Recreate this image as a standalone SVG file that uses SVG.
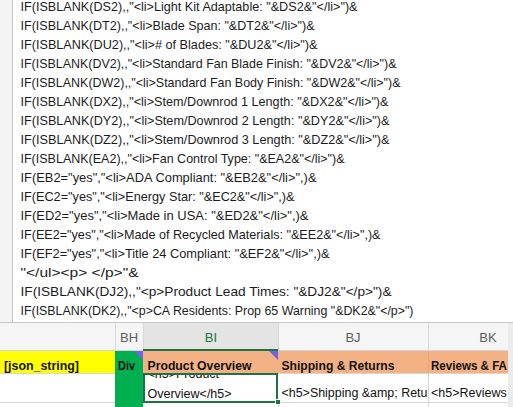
<svg xmlns="http://www.w3.org/2000/svg" width="513" height="407" viewBox="0 0 513 407">
<style>
.f{font-family:"Liberation Sans",Arial,sans-serif;font-size:13px;fill:#1c1c1c}
.c{font-family:"Liberation Sans",Arial,sans-serif;font-size:13px;fill:#5e5e5e;text-anchor:middle}
.b{font-family:"Liberation Sans",Arial,sans-serif;font-size:13px;font-weight:bold;fill:#111}
.r{font-family:"Liberation Sans",Arial,sans-serif;font-size:12.5px;fill:#111}
.grid{stroke:#d6d6d6;stroke-width:1}
.tri{fill:#7262e6}
</style>
<defs>
<clipPath id="clipBI"><rect x="144" y="374" width="133" height="28"/></clipPath>
<clipPath id="clipBK"><rect x="429" y="374" width="79" height="28"/></clipPath>
</defs>
<rect width="513" height="407" fill="#ffffff"/>
<g id="formula">
<rect x="0" y="0" width="12" height="322" fill="#f4f4f4"/>
<line x1="12.5" y1="0" x2="12.5" y2="322" stroke="#c4c4c4"/>
<text class="f" x="20.5" y="10.5" textLength="337" lengthAdjust="spacingAndGlyphs">IF(ISBLANK(DS2),,"&lt;li&gt;Light Kit Adaptable: "&amp;DS2&amp;"&lt;/li&gt;")&amp;</text>
<text class="f" x="20.5" y="29.5" textLength="294" lengthAdjust="spacingAndGlyphs">IF(ISBLANK(DT2),,"&lt;li&gt;Blade Span: "&amp;DT2&amp;"&lt;/li&gt;")&amp;</text>
<text class="f" x="20.5" y="48.5" textLength="297" lengthAdjust="spacingAndGlyphs">IF(ISBLANK(DU2),,"&lt;li&gt;# of Blades: "&amp;DU2&amp;"&lt;/li&gt;")&amp;</text>
<text class="f" x="20.5" y="67.5" textLength="376" lengthAdjust="spacingAndGlyphs">IF(ISBLANK(DV2),,"&lt;li&gt;Standard Fan Blade Finish: "&amp;DV2&amp;"&lt;/li&gt;")&amp;</text>
<text class="f" x="20.5" y="86.5" textLength="380" lengthAdjust="spacingAndGlyphs">IF(ISBLANK(DW2),,"&lt;li&gt;Standard Fan Body Finish: "&amp;DW2&amp;"&lt;/li&gt;")&amp;</text>
<text class="f" x="20.5" y="105.5" textLength="368" lengthAdjust="spacingAndGlyphs">IF(ISBLANK(DX2),,"&lt;li&gt;Stem/Downrod 1 Length: "&amp;DX2&amp;"&lt;/li&gt;")&amp;</text>
<text class="f" x="20.5" y="124.5" textLength="369" lengthAdjust="spacingAndGlyphs">IF(ISBLANK(DY2),,"&lt;li&gt;Stem/Downrod 2 Length: "&amp;DY2&amp;"&lt;/li&gt;")&amp;</text>
<text class="f" x="20.5" y="143.5" textLength="369" lengthAdjust="spacingAndGlyphs">IF(ISBLANK(DZ2),,"&lt;li&gt;Stem/Downrod 3 Length: "&amp;DZ2&amp;"&lt;/li&gt;")&amp;</text>
<text class="f" x="20.5" y="162.5" textLength="324" lengthAdjust="spacingAndGlyphs">IF(ISBLANK(EA2),,"&lt;li&gt;Fan Control Type: "&amp;EA2&amp;"&lt;/li&gt;")&amp;</text>
<text class="f" x="20.5" y="181.5" textLength="296" lengthAdjust="spacingAndGlyphs">IF(EB2="yes","&lt;li&gt;ADA Compliant: "&amp;EB2&amp;"&lt;/li&gt;",)&amp;</text>
<text class="f" x="20.5" y="200.5" textLength="274" lengthAdjust="spacingAndGlyphs">IF(EC2="yes","&lt;li&gt;Energy Star: "&amp;EC2&amp;"&lt;/li&gt;",)&amp;</text>
<text class="f" x="20.5" y="219.5" textLength="288" lengthAdjust="spacingAndGlyphs">IF(ED2="yes","&lt;li&gt;Made in USA: "&amp;ED2&amp;"&lt;/li&gt;",)&amp;</text>
<text class="f" x="20.5" y="238.5" textLength="360" lengthAdjust="spacingAndGlyphs">IF(EE2="yes","&lt;li&gt;Made of Recycled Materials: "&amp;EE2&amp;"&lt;/li&gt;",)&amp;</text>
<text class="f" x="20.5" y="257.5" textLength="309" lengthAdjust="spacingAndGlyphs">IF(EF2="yes","&lt;li&gt;Title 24 Compliant: "&amp;EF2&amp;"&lt;/li&gt;",)&amp;</text>
<text class="f" x="20.5" y="276.5" textLength="118" lengthAdjust="spacingAndGlyphs">"&lt;/ul&gt;&lt;p&gt; &lt;/p&gt;"&amp;</text>
<text class="f" x="20.5" y="295.5" textLength="371" lengthAdjust="spacingAndGlyphs">IF(ISBLANK(DJ2),,"&lt;p&gt;Product Lead Times: "&amp;DJ2&amp;"&lt;/p&gt;")&amp;</text>
<text class="f" x="20.5" y="314.5" textLength="393" lengthAdjust="spacingAndGlyphs">IF(ISBLANK(DK2),,"&lt;p&gt;CA Residents: Prop 65 Warning "&amp;DK2&amp;"&lt;/p&gt;")</text>
</g>
<g id="column-headers">
<line x1="0" y1="322.5" x2="513" y2="322.5" stroke="#c8c8c8"/>
<rect x="0" y="323" width="513" height="27" fill="#f5f5f5"/>
<rect x="143" y="323" width="135" height="27" fill="#e4e4e4"/>
<line x1="115.5" y1="323" x2="115.5" y2="350" class="grid"/>
<line x1="143.5" y1="323" x2="143.5" y2="350" class="grid"/>
<line x1="278.5" y1="323" x2="278.5" y2="350" class="grid"/>
<line x1="428.5" y1="323" x2="428.5" y2="350" class="grid"/>
<line x1="0" y1="350.5" x2="513" y2="350.5" class="grid"/>
<text class="c" x="129" y="342">BH</text>
<text class="c" x="211" y="342" style="fill:#217346">BI</text>
<text class="c" x="353" y="342">BJ</text>
<text class="c" x="488" y="342">BK</text>
<line x1="143" y1="350" x2="278" y2="350" stroke="#1f7244" stroke-width="2"/>
</g>
<g id="row2">
<rect x="0" y="351" width="115" height="22" fill="#ffff00"/>
<rect x="143" y="351" width="365" height="22" fill="#f4b183"/>
<line x1="428.5" y1="351" x2="428.5" y2="373" stroke="#e8a577"/>
<text class="b" x="4" y="369.5" textLength="75" lengthAdjust="spacingAndGlyphs">[json_string]</text>
<text class="b" x="147.5" y="369.5" textLength="104" lengthAdjust="spacingAndGlyphs">Product Overview</text>
<text class="b" x="281.5" y="369.5" textLength="113" lengthAdjust="spacingAndGlyphs">Shipping &amp; Returns</text>
<text class="b" x="431" y="369.5" textLength="76" lengthAdjust="spacingAndGlyphs">Reviews &amp; FA</text>
</g>
<g id="row3">
<line x1="0" y1="373.5" x2="115" y2="373.5" class="grid"/>
<line x1="278" y1="373.5" x2="508" y2="373.5" class="grid"/>
<line x1="0" y1="402.5" x2="508" y2="402.5" class="grid"/>
<line x1="428.5" y1="373" x2="428.5" y2="407" class="grid"/>
<line x1="278.5" y1="402" x2="278.5" y2="407" class="grid"/>
<g clip-path="url(#clipBI)">
<text class="r" x="147.5" y="378">&lt;h5&gt;Product</text>
</g>
<text class="r" x="147.5" y="397.5">Overview&lt;/h5&gt;</text>
<text class="r" x="281.5" y="396.5" textLength="146" lengthAdjust="spacingAndGlyphs">&lt;h5&gt;Shipping &amp;amp; Retu</text>
<g clip-path="url(#clipBK)"><text class="r" x="431" y="396.5">&lt;h5&gt;Reviews &amp;amp;</text></g>
</g>
<g id="div-column">
<rect x="115" y="351" width="28" height="56" fill="#00b050"/>
<text class="b" x="118" y="369.5" textLength="17" lengthAdjust="spacingAndGlyphs">Div</text>
<polygon class="tri" points="134,351 143,351 143,360"/>
<polygon class="tri" points="269,351 278,351 278,360"/>
</g>
<g id="selection">
<rect x="144" y="374" width="133" height="28" fill="none" stroke="#1f7244" stroke-width="2"/>
<rect x="275.5" y="399.5" width="5" height="5" fill="#1f7244" stroke="#ffffff" stroke-width="1"/>
</g>
<rect x="508" y="323" width="5" height="84" fill="#ececec"/>
</svg>
